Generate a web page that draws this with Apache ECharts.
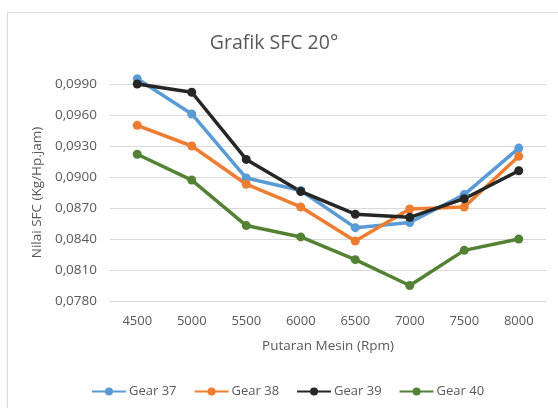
<!DOCTYPE html>
<html>
<head>
<meta charset="utf-8">
<script src="https://cdn.jsdelivr.net/npm/echarts@6/dist/echarts.min.js"></script>
<style>
  html, body { margin: 0; padding: 0; background: #fff; }
  #chart { width: 558px; height: 408px; }
</style>
</head>
<body>
<div id="chart"></div>
<script>
const rpm = ['4500', '5000', '5500', '6000', '6500', '7000', '7500', '8000'];
const gear37 = [0.0995, 0.0961, 0.0899, 0.0887, 0.0851, 0.0856, 0.0883, 0.0928];
const gear38 = [0.0950, 0.0930, 0.0893, 0.0871, 0.0838, 0.0869, 0.0871, 0.0920];
const gear39 = [0.0990, 0.0982, 0.0917, 0.0886, 0.0864, 0.0861, 0.0879, 0.0906];
const gear40 = [0.0922, 0.0897, 0.0853, 0.0842, 0.0820, 0.0795, 0.0829, 0.0840];

const textColor = '#595959';
const font = 'Open Sans, sans-serif';

const makeSeries = (name, data, color) => ({
  name,
  type: 'line',
  data,
  clip: false,
  symbol: 'circle',
  symbolSize: 9,
  lineStyle: { color, width: 3.5 },
  itemStyle: { color },
  emphasis: { disabled: true },
  animation: false,
});

const chart = echarts.init(document.getElementById('chart'));
chart.setOption({
  graphic: [{
    type: 'rect',
    shape: { x: 7.5, y: 12.5, width: 560, height: 410 },
    style: { fill: 'none', stroke: '#d9d9d9', lineWidth: 1 },
  }],
  title: {
    text: 'Grafik SFC 20°',
    left: 269,
    textAlign: 'center',
    top: 28,
    textStyle: { color: textColor, fontSize: 19.5, fontWeight: 'normal', fontFamily: font },
  },
  legend: {
    bottom: 5,
    left: 86,
    itemWidth: 34,
    itemHeight: 10,
    itemGap: 17,
    textStyle: { color: textColor, fontSize: 13, fontFamily: font, padding: [0, 0, 0, -2] },
    data: ['Gear 37', 'Gear 38', 'Gear 39', 'Gear 40'],
  },
  grid: { left: 110, right: 12, top: 84, bottom: 107 },
  xAxis: {
    type: 'category',
    data: rpm,
    boundaryGap: true,
    name: 'Putaran Mesin (Rpm)',
    nameLocation: 'middle',
    nameGap: 38,
    nameTextStyle: { color: textColor, fontSize: 13.5, fontFamily: font },
    axisLine: { lineStyle: { color: '#d9d9d9' } },
    axisTick: { show: false },
    axisLabel: { color: textColor, fontSize: 13, fontFamily: font, margin: 14 },
  },
  yAxis: {
    type: 'value',
    min: 0.078,
    max: 0.099,
    interval: 0.003,
    name: 'Nilai SFC (Kg/Hp.jam)',
    nameLocation: 'middle',
    nameGap: 63,
    nameTextStyle: { color: textColor, fontSize: 13.5, fontFamily: font },
    axisLine: { show: false },
    axisTick: { show: false },
    splitLine: { lineStyle: { color: '#d9d9d9', width: 1 } },
    axisLabel: {
      color: textColor, fontSize: 13.5, fontFamily: font, margin: 13,
      formatter: (v) => v.toFixed(4).replace('.', ','),
    },
  },
  series: [
    makeSeries('Gear 37', gear37, '#5B9BD5'),
    makeSeries('Gear 38', gear38, '#ED7D31'),
    makeSeries('Gear 39', gear39, '#262626'),
    makeSeries('Gear 40', gear40, '#548235'),
  ],
});
</script>
</body>
</html>
